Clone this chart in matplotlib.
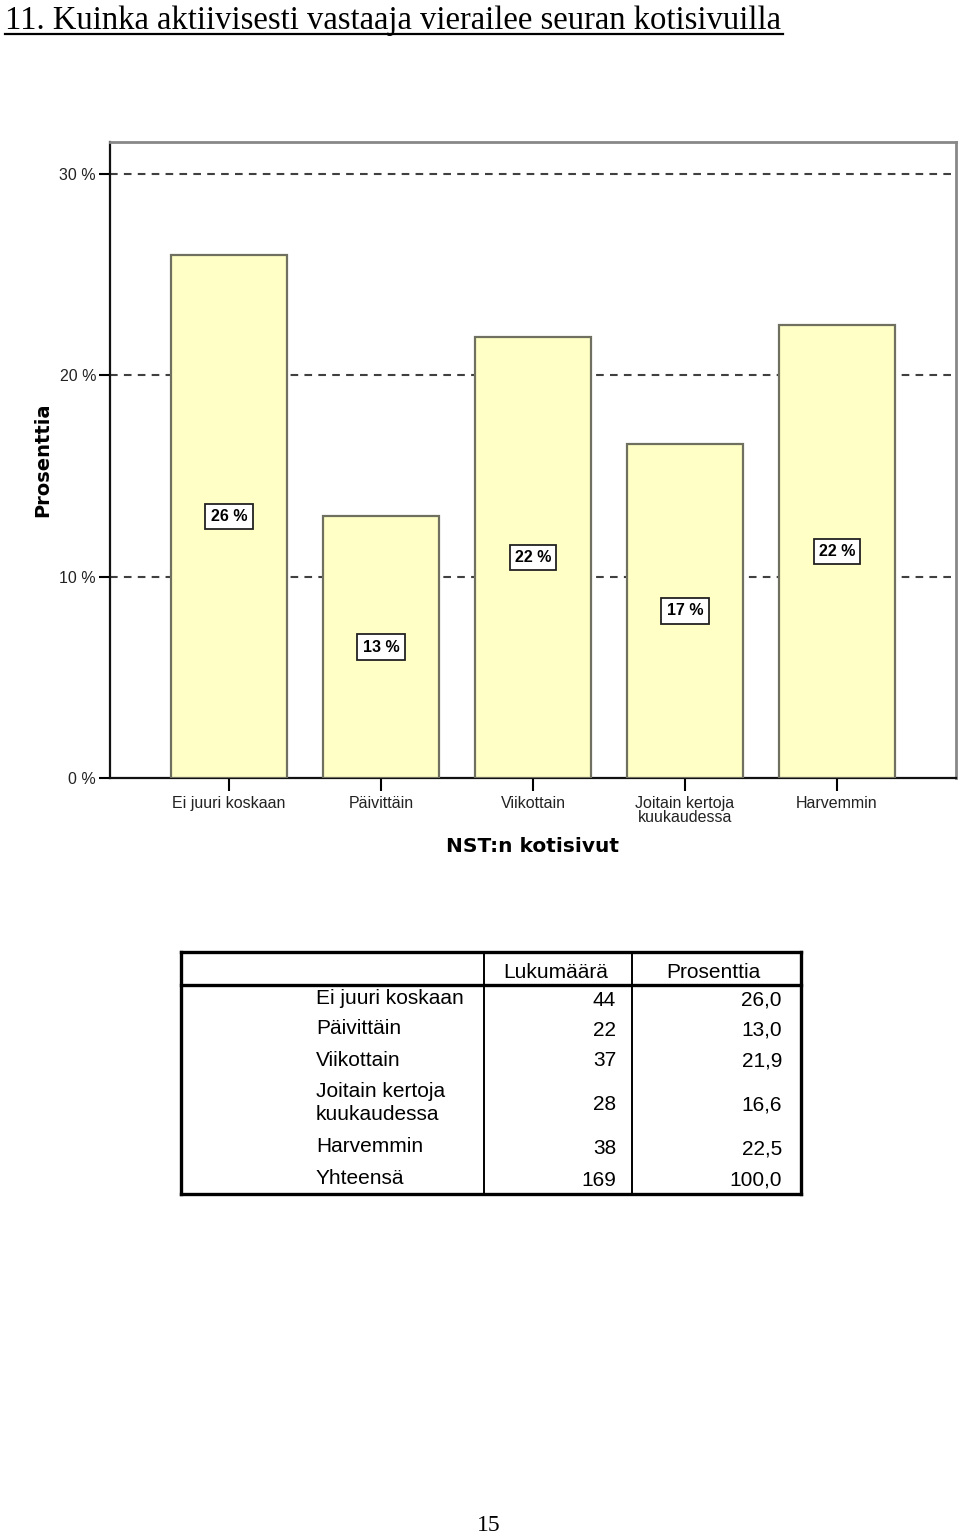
import matplotlib
matplotlib.use('Agg')
import matplotlib.pyplot as plt
from matplotlib.lines import Line2D

# Kysymys 11: vierailut seuran kotisivuilla
kategoriat = ['Ei juuri koskaan', 'Päivittäin', 'Viikottain',
              'Joitain kertoja\nkuukaudessa', 'Harvemmin']
lukumaara = [44, 22, 37, 28, 38]
prosentti = [26.0, 13.0, 21.9, 16.6, 22.5]
yhteensa_n = 169
yhteensa_p = 100.0
y_ticks = [0, 10, 20, 30]
y_ticklabels = ['0 %', '10 %', '20 %', '30 %']

plt.rcParams['font.family'] = ['Liberation Sans', 'DejaVu Sans']
plt.rcParams['lines.scale_dashes'] = False

W, H = 960, 1533
fig = plt.figure(figsize=(W / 100, H / 100), dpi=100)
fig.patch.set_facecolor('white')

def px(x0, y0, x1, y1):
    return [x0 / W, 1 - y1 / H, (x1 - x0) / W, (y1 - y0) / H]

# Pylväskaavio
ax = fig.add_axes(px(110, 142, 956, 778))
x = list(range(len(kategoriat)))
ax.bar(x, prosentti, width=0.757, color='#FFFFC6', edgecolor='#707060',
       linewidth=1.6, zorder=3)
for yy in y_ticks[1:]:
    ax.axhline(yy, color='#404040', linewidth=1.5, dashes=(5.5, 4.5), zorder=1)
for xi, p in zip(x, prosentti):
    ax.text(xi, p / 2, '%d %%' % round(p), ha='center', va='center',
            fontsize=11.5, fontweight='bold', zorder=5,
            bbox=dict(boxstyle='square,pad=0.33', facecolor='white',
                      edgecolor='#222222', linewidth=1.3))

ax.set_xlim(-0.783, len(kategoriat) - 1 + 0.783)
ax.set_ylim(0, 31.6)
ax.set_yticks(y_ticks)
ax.set_yticklabels(y_ticklabels, fontsize=11.5, color='#222222')
ax.set_xticks(x)
ax.set_xticklabels(kategoriat, fontsize=11.5, color='#222222', linespacing=0.9)
ax.tick_params(axis='y', length=8, width=1.5, pad=2)
ax.tick_params(axis='x', length=9, width=1.5, pad=4)
for s in ['left', 'bottom']:
    ax.spines[s].set_color('#111111')
    ax.spines[s].set_linewidth(1.6)
for s in ['top', 'right']:
    ax.spines[s].set_color('#888888')
    ax.spines[s].set_linewidth(2)
ax.set_ylabel('Prosenttia', fontsize=14, fontweight='bold', labelpad=5,
              family=['DejaVu Sans'])
ax.set_xlabel('NST:n kotisivut', fontsize=14.5, fontweight='bold', labelpad=9,
              family=['DejaVu Sans'])

# Sivupohja: otsikko, taulukko, sivunumero
ov = fig.add_axes([0, 0, 1, 1], zorder=-1)
ov.set_xlim(0, W)
ov.set_ylim(H, 0)
ov.axis('off')

ov.text(5, 29, '11. Kuinka aktiivisesti vastaaja vierailee seuran kotisivuilla',
        fontsize=23.5, family=['Liberation Serif'], va='baseline', ha='left')
ov.add_line(Line2D([5, 783], [34, 34], color='black', linewidth=1.6))

# Taulukko
lw = 2.4
for xs, ys in [([181, 801], [952, 952]), ([181, 801], [1194, 1194]),
               ([181, 181], [952, 1194]), ([801, 801], [952, 1194]),
               ([181, 801], [985, 985])]:
    ov.add_line(Line2D(xs, ys, color='black', linewidth=lw, solid_capstyle='projecting'))
for cx in [484, 632]:
    ov.add_line(Line2D([cx, cx], [952, 1194], color='black', linewidth=1.4))

fs = 15
tf = ['Liberation Sans', 'DejaVu Sans']
ov.text(556, 973, 'Lukumäärä', ha='center', va='center', fontsize=fs, family=tf)
ov.text(713, 973, 'Prosenttia', ha='center', va='center', fontsize=fs, family=tf)

nimet = ['Ei juuri koskaan', 'Päivittäin', 'Viikottain',
         'Joitain kertoja\nkuukaudessa', 'Harvemmin', 'Yhteensä']
nimi_y = [998, 1029, 1060, 1103, 1147, 1178]
luku_y = [1000, 1030, 1061, 1105, 1149, 1180]
luvut = lukumaara + [yhteensa_n]
pros = prosentti + [yhteensa_p]
for nimi, n, p, yl, yn in zip(nimet, luvut, pros, nimi_y, luku_y):
    ov.text(316, yl, nimi, ha='left', va='center', fontsize=fs, family=tf,
            linespacing=1.25)
    ov.text(616, yn, str(n), ha='right', va='center', fontsize=fs, family=tf)
    ov.text(782, yn, ('%.1f' % p).replace('.', ','), ha='right', va='center',
            fontsize=fs, family=tf)

ov.text(489, 1531, '15', ha='center', va='baseline', fontsize=17,
        family=['Liberation Serif'])

fig.savefig('out.png', dpi=100, facecolor='white')
